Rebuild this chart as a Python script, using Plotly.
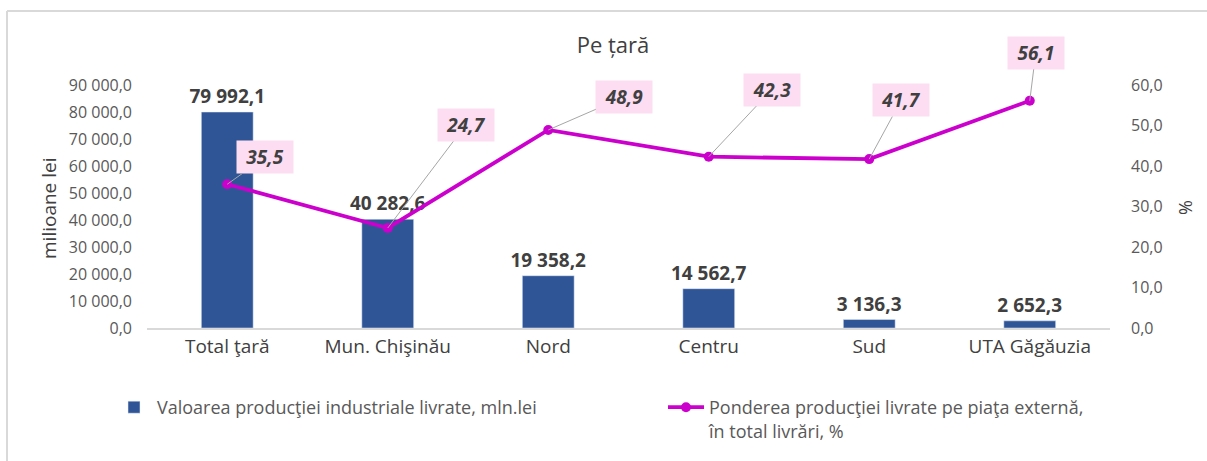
import plotly.graph_objects as go

categories = ["Total ţară", "Mun. Chişinău", "Nord", "Centru", "Sud", "UTA Găgăuzia"]
values_mln = [79992.1, 40282.6, 19358.2, 14562.7, 3136.3, 2652.3]
share_pct = [35.5, 24.7, 48.9, 42.3, 41.7, 56.1]
share_labels = ["35,5", "24,7", "48,9", "42,3", "41,7", "56,1"]
bar_name = "Valoarea producţiei industriale livrate, mln.lei"
line_name = "Ponderea producţiei livrate pe piaţa externă,<br>în total livrări, %"

# callout offsets (pixels) for the percentage labels
callout_ax = [38, 78, 76, 63, 32, 6]
callout_ay = [-27, -103, -33, -67, -59, -48]

W, H = 1207, 461
L, R, T, B = 147, 1110, 85, 328
pw, ph = R - L, B - T

def px(x):
    return (x - L) / pw

def py(y):
    return (B - y) / ph

FONT = "Open Sans"
fig = go.Figure()
fig.add_trace(go.Bar(
    x=categories, y=values_mln, name=bar_name,
    marker=dict(color="#2F5597"),
    texttemplate="<b>%{y:,.1f}</b>", textposition="outside",
    textfont=dict(size=19, color="#404040", family=FONT),
    constraintext="none", cliponaxis=False, yaxis="y",
    legend="legend", showlegend=True,
))
fig.add_trace(go.Scatter(
    x=categories, y=share_pct, name=line_name, yaxis="y2",
    mode="lines+markers",
    line=dict(color="#CC00CC", width=3.8),
    marker=dict(color="#CC00CC", size=10),
    cliponaxis=False, legend="legend2", showlegend=True,
))

annotations = []
for c, v, t, ax, ay in zip(categories, share_pct, share_labels, callout_ax, callout_ay):
    annotations.append(dict(
        x=c, y=v, xref="x", yref="y2", text=f"<b><i>{t}</i></b>",
        showarrow=True, arrowhead=0, arrowwidth=1, arrowcolor="#A6A6A6",
        ax=ax, ay=ay, bgcolor="#FCDDF2", borderpad=3, width=50, height=26,
        font=dict(size=19, color="#404040", family=FONT),
    ))
annotations.append(dict(x=px(49), y=py(208), xref="paper", yref="paper",
                        xanchor="center", yanchor="middle",
                        text="milioane lei", textangle=-90, showarrow=False,
                        font=dict(size=19, color="#404040", family=FONT)))
annotations.append(dict(x=px(1185), y=py(208), xref="paper", yref="paper",
                        xanchor="center", yanchor="middle",
                        text="%", textangle=-90, showarrow=False,
                        font=dict(size=18, color="#404040", family=FONT)))

legend_common = dict(orientation="h", xanchor="left", yanchor="top",
                     font=dict(size=18, color="#595959", family=FONT),
                     valign="top", bgcolor="rgba(0,0,0,0)", itemwidth=36)

fig.update_layout(
    width=W, height=H, showlegend=True,
    margin=dict(l=L, r=W - R, t=T, b=H - B, autoexpand=False),
    paper_bgcolor="white", plot_bgcolor="white",
    separators=", ",
    bargap=0.677,
    title=dict(text="Pe țară", x=613 / W, y=1 - 45 / H, xanchor="center", yanchor="middle",
               xref="container", yref="container",
               font=dict(size=22, color="#404040", family=FONT)),
    font=dict(family=FONT, color="#595959"),
    xaxis=dict(showline=True, linecolor="#D9D9D9", linewidth=1.5, ticks="",
               tickfont=dict(size=19, color="#404040", family=FONT), showgrid=False),
    yaxis=dict(range=[0, 90000], dtick=10000, tickformat=",.1f", showgrid=False,
               zeroline=False, showline=False,
               tickfont=dict(size=16, color="#595959", family=FONT), ticklabelstandoff=14),
    yaxis2=dict(range=[0, 60], dtick=10, tickformat=".1f", overlaying="y", side="right",
                showgrid=False, zeroline=False, showline=False,
                tickfont=dict(size=16, color="#595959", family=FONT), ticklabelstandoff=20),
    legend=dict(x=px(111), y=py(389), **legend_common),
    legend2=dict(x=px(663), y=py(389), **legend_common),
    annotations=annotations,
    shapes=[
        dict(type="line", xref="paper", yref="paper", x0=px(7), x1=px(1207), y0=py(11), y1=py(11),
             line=dict(color="#D9D9D9", width=2)),
        dict(type="line", xref="paper", yref="paper", x0=px(7), x1=px(7), y0=py(11), y1=py(461),
             line=dict(color="#D9D9D9", width=2)),
    ],
)

fig.write_html("out.html", config={"displayModeBar": False},
               post_script="document.body.style.margin='0';document.body.style.overflow='hidden';")
